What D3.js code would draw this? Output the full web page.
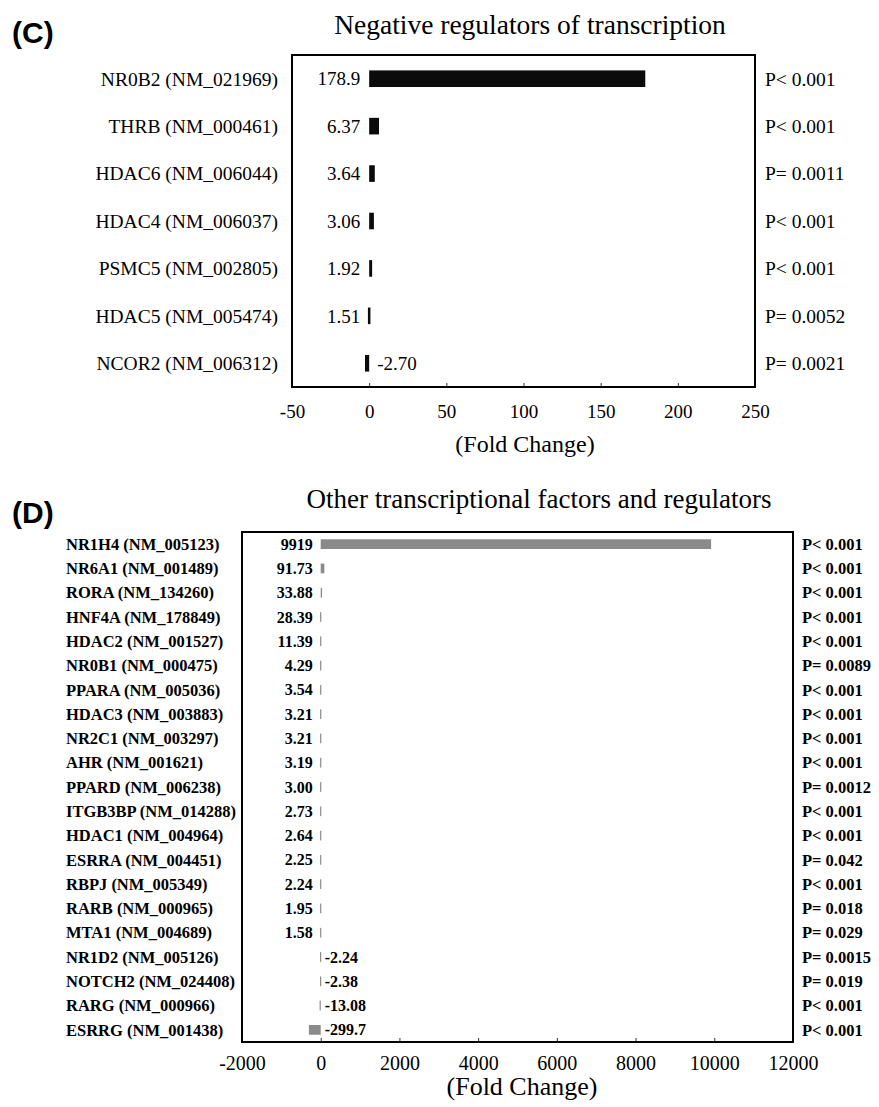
<!DOCTYPE html>
<html>
<head>
<meta charset="utf-8">
<script src="https://cdn.jsdelivr.net/npm/d3@7/dist/d3.min.js"></script>
<style>
  html, body { margin: 0; padding: 0; background: #fff; }
  svg { display: block; }
</style>
</head>
<body>
<svg id="fig" width="879" height="1107"></svg>
<script>
// Panel C: negative regulators of transcription
const genesC = [
  "NR0B2 (NM_021969)", "THRB (NM_000461)", "HDAC6 (NM_006044)", "HDAC4 (NM_006037)",
  "PSMC5 (NM_002805)", "HDAC5 (NM_005474)", "NCOR2 (NM_006312)"
];
const foldC = [178.9, 6.37, 3.64, 3.06, 1.92, 1.51, -2.70];
const foldLabelsC = ["178.9", "6.37", "3.64", "3.06", "1.92", "1.51", "-2.70"];
const pValuesC = ["P< 0.001", "P< 0.001", "P= 0.0011", "P< 0.001", "P< 0.001", "P= 0.0052", "P= 0.0021"];
const ticksC = [-50, 0, 50, 100, 150, 200, 250];

// Panel D: other transcriptional factors and regulators
const genesD = [
  "NR1H4 (NM_005123)", "NR6A1 (NM_001489)", "RORA (NM_134260)", "HNF4A (NM_178849)",
  "HDAC2 (NM_001527)", "NR0B1 (NM_000475)", "PPARA (NM_005036)", "HDAC3 (NM_003883)",
  "NR2C1 (NM_003297)", "AHR (NM_001621)", "PPARD (NM_006238)", "ITGB3BP (NM_014288)",
  "HDAC1 (NM_004964)", "ESRRA (NM_004451)", "RBPJ (NM_005349)", "RARB (NM_000965)",
  "MTA1 (NM_004689)", "NR1D2 (NM_005126)", "NOTCH2 (NM_024408)", "RARG (NM_000966)",
  "ESRRG (NM_001438)"
];
const foldD = [9919, 91.73, 33.88, 28.39, 11.39, 4.29, 3.54, 3.21, 3.21, 3.19, 3.00,
  2.73, 2.64, 2.25, 2.24, 1.95, 1.58, -2.24, -2.38, -13.08, -299.7];
const foldLabelsD = ["9919", "91.73", "33.88", "28.39", "11.39", "4.29", "3.54", "3.21",
  "3.21", "3.19", "3.00", "2.73", "2.64", "2.25", "2.24", "1.95", "1.58", "-2.24",
  "-2.38", "-13.08", "-299.7"];
const pValuesD = ["P< 0.001", "P< 0.001", "P< 0.001", "P< 0.001", "P< 0.001", "P= 0.0089",
  "P< 0.001", "P< 0.001", "P< 0.001", "P< 0.001", "P= 0.0012", "P< 0.001", "P< 0.001",
  "P= 0.042", "P< 0.001", "P= 0.018", "P= 0.029", "P= 0.0015", "P= 0.019", "P< 0.001",
  "P< 0.001"];
const ticksD = [-2000, 0, 2000, 4000, 6000, 8000, 10000, 12000];

const SERIF = "'Liberation Serif', 'Times New Roman', serif";
const SANS = "'Liberation Sans', Arial, sans-serif";
const svg = d3.select("#fig");

function drawPanel(o) {
  const g = svg.append("g");
  const x = d3.scaleLinear().domain(o.domain).range([o.left, o.right]);
  const y = d3.scaleBand().domain(o.genes).range([o.top, o.bottom]).paddingInner(o.pad).paddingOuter(o.pad / 2);
  const rowY = d => y(d) + y.bandwidth() / 2;
  const x0 = x(0);

  // panel letter
  g.append("text").attr("x", 12).attr("y", o.letterY)
    .attr("font-family", SANS).attr("font-weight", "bold").attr("font-size", 30)
    .text(o.letter);

  // title
  g.append("text").attr("x", o.titleX).attr("y", o.titleY).attr("text-anchor", "middle")
    .attr("font-family", SERIF).attr("font-size", o.titleSize).text(o.title);

  // bars
  g.selectAll("rect.bar").data(o.values).enter().append("rect")
    .attr("class", "bar")
    .attr("x", v => Math.min(x(v), x0) - (Math.abs(x(v) - x0) < o.minW ? o.minW / 2 : 0))
    .attr("y", (v, i) => rowY(o.genes[i]) - y.bandwidth() / 2)
    .attr("width", v => Math.max(Math.abs(x(v) - x0), o.minW))
    .attr("height", y.bandwidth())
    .attr("fill", o.barColor);

  // value labels beside the zero line
  g.selectAll("text.val").data(o.values).enter().append("text")
    .attr("class", "val")
    .attr("x", v => v >= 0 ? x0 - o.valGapPos : x0 + o.valGapNeg)
    .attr("y", (v, i) => rowY(o.genes[i]))
    .attr("dy", "0.35em")
    .attr("text-anchor", v => v >= 0 ? "end" : "start")
    .attr("font-family", SERIF).attr("font-size", o.valSize)
    .attr("font-weight", o.bold ? "bold" : "normal")
    .text((v, i) => o.valueLabels[i]);

  // gene names
  g.selectAll("text.gene").data(o.genes).enter().append("text")
    .attr("class", "gene")
    .attr("x", o.geneX).attr("y", d => rowY(d)).attr("dy", "0.35em")
    .attr("text-anchor", o.geneAnchor)
    .attr("font-family", SERIF).attr("font-size", o.geneSize)
    .attr("font-weight", o.bold ? "bold" : "normal")
    .text(d => d);

  // p-values
  g.selectAll("text.pv").data(o.pvals).enter().append("text")
    .attr("class", "pv")
    .attr("x", o.pX).attr("y", (d, i) => rowY(o.genes[i])).attr("dy", "0.35em")
    .attr("font-family", SERIF).attr("font-size", o.pSize)
    .attr("font-weight", o.bold ? "bold" : "normal")
    .text(d => d);

  // x axis with inward ticks; plain hyphen for negative numbers
  const axis = d3.axisBottom(x).tickValues(o.ticks).tickSizeInner(-4).tickSizeOuter(0)
    .tickFormat(d => String(d));
  const ax = g.append("g").attr("transform", `translate(0,${o.bottom})`).call(axis);
  ax.select(".domain").remove();
  ax.selectAll(".tick line").attr("stroke", "#333").attr("stroke-width", 1);
  ax.selectAll(".tick text")
    .attr("y", o.tickLabelOffset).attr("dy", 0)
    .attr("font-family", SERIF).attr("font-size", o.tickSize).attr("fill", "#000");

  // frame
  g.append("rect").attr("x", o.left).attr("y", o.top)
    .attr("width", o.right - o.left).attr("height", o.bottom - o.top)
    .attr("fill", "none").attr("stroke", "#000").attr("stroke-width", 2);

  // axis title
  g.append("text").attr("x", o.axisTitleX).attr("y", o.axisTitleY).attr("text-anchor", "middle")
    .attr("font-family", SERIF).attr("font-size", o.axisTitleSize).text("(Fold Change)");
}

drawPanel({
  letter: "(C)", letterY: 43,
  title: "Negative regulators of transcription", titleX: 530, titleY: 34, titleSize: 27.5,
  genes: genesC, values: foldC, valueLabels: foldLabelsC, pvals: pValuesC, ticks: ticksC,
  domain: [-50, 250], left: 292, right: 755, top: 55, bottom: 387, pad: 0.65,
  barColor: "#0b0b0b", minW: 2.5,
  valGapPos: 9, valGapNeg: 8, valSize: 19,
  geneX: 278, geneAnchor: "end", geneSize: 19.5,
  pX: 765, pSize: 19.5,
  tickLabelOffset: 31, tickSize: 19,
  axisTitleX: 525, axisTitleY: 452, axisTitleSize: 24,
  bold: false
});

drawPanel({
  letter: "(D)", letterY: 523,
  title: "Other transcriptional factors and regulators", titleX: 539, titleY: 508, titleSize: 27,
  genes: genesD, values: foldD, valueLabels: foldLabelsD, pvals: pValuesD, ticks: ticksD,
  domain: [-2000, 12000], left: 242, right: 793, top: 532, bottom: 1042, pad: 0.6,
  barColor: "#8a8a8a", minW: 1.2,
  valGapPos: 8, valGapNeg: 4, valSize: 16,
  geneX: 66, geneAnchor: "start", geneSize: 16.5,
  pX: 802, pSize: 16.5,
  tickLabelOffset: 28, tickSize: 20,
  axisTitleX: 522, axisTitleY: 1095, axisTitleSize: 26,
  bold: true
});
</script>
</body>
</html>
